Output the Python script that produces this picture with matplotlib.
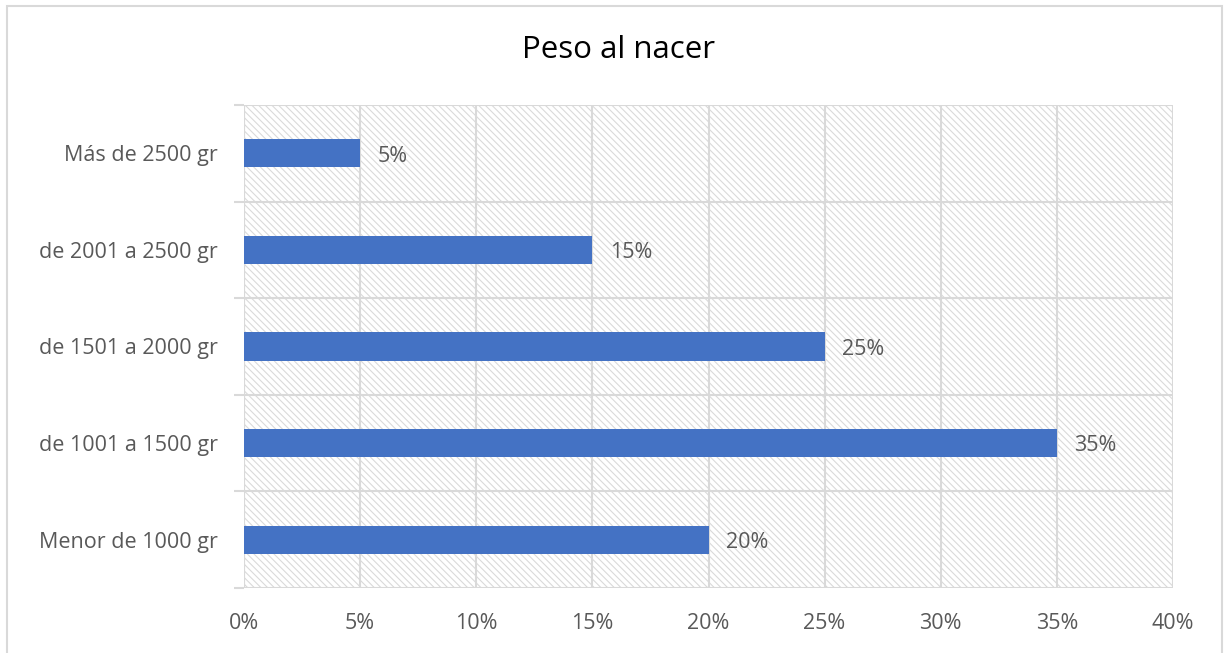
import matplotlib.pyplot as plt
import matplotlib.patches as mpatches
import numpy as np

plt.rcParams['font.family'] = ['Open Sans', 'DejaVu Sans']
plt.rcParams['hatch.linewidth'] = 0.8

categorias = ['Menor de 1000 gr', 'de 1001 a 1500 gr', 'de 1501 a 2000 gr',
              'de 2001 a 2500 gr', 'Más de 2500 gr']
valores = [20, 35, 25, 15, 5]
xticks = [0, 5, 10, 15, 20, 25, 30, 35, 40]

gris = '#d9d9d9'
texto = '#595959'

fig = plt.figure(figsize=(12.29, 6.53), dpi=100)
ax = fig.add_axes([244/1229, 1 - 588/653, (1173 - 244)/1229, (588 - 105)/653])

# borde de la figura
fig.patches.append(mpatches.Rectangle((7/1229, -0.05), (1222 - 7)/1229, 1.05 - 6/653,
                                      transform=fig.transFigure, fill=False,
                                      edgecolor=gris, lw=1.5))

# fondo rayado
ax.add_patch(mpatches.Rectangle((0, 0), 1, 1, transform=ax.transAxes,
                                facecolor='white', edgecolor='#dadada', lw=0,
                                hatch='\\' * 5, zorder=0))

y = np.arange(len(categorias))
ax.barh(y, valores, height=0.29, color='#4472C4', zorder=3)
for yi, v in zip(y, valores):
    ax.text(v + 0.75, yi - 0.03, f'{v}%', va='center', ha='left', fontsize=15.5, color=texto)

ax.set_xlim(0, 40)
ax.set_ylim(-0.5, len(categorias) - 0.5)
ax.set_xticks(xticks)
ax.set_xticklabels([f'{t}%' for t in xticks], fontsize=15.5, color=texto)
ax.set_yticks(y)
ax.set_yticklabels(categorias, fontsize=15.5, color=texto)
ax.set_yticks(np.arange(-0.5, len(categorias)), minor=True)
ax.tick_params(axis='y', which='major', length=0, pad=19)
ax.tick_params(axis='y', which='minor', length=7, color=gris, width=1.5)
ax.tick_params(axis='x', length=0, pad=18)
ax.grid(axis='x', color=gris, lw=1.5, zorder=1)
ax.grid(axis='y', which='minor', color=gris, lw=1.5, zorder=1)
ax.set_axisbelow(True)
for s in ['top', 'right', 'left', 'bottom']:
    ax.spines[s].set_visible(False)
ax.axvline(0, color=gris, lw=1.5, zorder=2)

fig.text(0.503, 1 - 50/653, 'Peso al nacer', ha='center', va='center', fontsize=22.5, color='black')

fig.savefig('out.png', dpi=100)
